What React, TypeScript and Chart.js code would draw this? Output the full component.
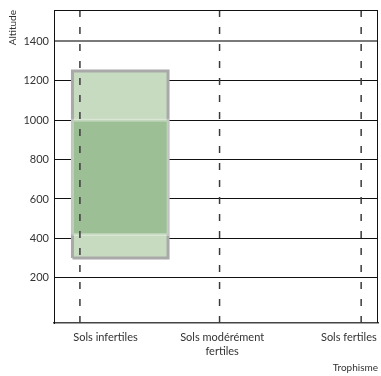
import React, { useEffect, useRef } from "react";
import { Chart, registerables } from "chart.js";

Chart.register(...registerables);

// Category labels along the "Trophisme" axis and where they sit on the x scale (0..10)
const categories: (string | string[])[] = ["Sols infertiles", ["Sols modérément", "fertiles"], "Sols fertiles"];
const categoryPositions = [1.59, 5.19, 9.1];
// Dashed reference lines (one per soil type)
const referenceLines = [0.8, 5.11, 9.48];
// Altitude ticks
const altitudeTicks = [200, 400, 600, 800, 1000, 1200, 1400];
const altitudeMin = -30;
const altitudeMax = 1560;
// Altitude range box (x extent on the trophism scale, y extent in metres)
const boxX = [0.57, 3.52];
const outerAltitude = [300, 1250];
const coreAltitude = [420, 1000];

const FONT = "Lato, 'Open Sans', sans-serif";

function rect(x: number[], y: number[]) {
  return [
    { x: x[0], y: y[0] },
    { x: x[0], y: y[1] },
    { x: x[1], y: y[1] },
    { x: x[1], y: y[0] },
    { x: x[0], y: y[0] },
  ];
}

const frame = {
  id: "frame",
  afterDraw(chart: any) {
    const { ctx, chartArea } = chart;
    ctx.save();
    ctx.strokeStyle = "#111";
    ctx.lineWidth = 1;
    ctx.beginPath();
    ctx.moveTo(chartArea.left, chartArea.top + 0.5);
    ctx.lineTo(chartArea.right, chartArea.top + 0.5);
    ctx.moveTo(chartArea.right - 0.5, chartArea.top);
    ctx.lineTo(chartArea.right - 0.5, chartArea.bottom);
    ctx.stroke();
    ctx.restore();
  },
};

export default function App() {
  const ref = useRef<HTMLCanvasElement | null>(null);
  useEffect(() => {
    if (!ref.current) return;
    const datasets: any[] = [
      {
        data: rect(boxX, outerAltitude),
        showLine: true,
        fill: "shape",
        backgroundColor: "#c7dbc1",
        borderColor: "#a9a9a9",
        borderWidth: 3,
        pointRadius: 0,
        tension: 0,
        borderJoinStyle: "miter",
        order: 3,
      },
      {
        data: rect(boxX, coreAltitude),
        showLine: true,
        fill: "shape",
        backgroundColor: "#9dbf95",
        borderColor: "rgba(255,255,255,0.3)",
        borderWidth: 3,
        pointRadius: 0,
        tension: 0,
        borderJoinStyle: "miter",
        order: 2,
      },
      ...referenceLines.map((x) => ({
        data: [
          { x, y: altitudeMax },
          { x, y: -55 },
        ],
        showLine: true,
        borderColor: "#3a3a3a",
        borderWidth: 1.5,
        borderDash: [7, 10],
        pointRadius: 0,
        clip: { left: 0, top: 0, right: 0, bottom: 6 },
        order: 1,
      })),
    ];
    const chart = new Chart(ref.current, {
      type: "scatter",
      data: { datasets },
      plugins: [frame],
      options: {
        animation: false,
        responsive: false,
        layout: { padding: { left: 0, top: 10, right: 3, bottom: 0 } },
        plugins: { legend: { display: false }, tooltip: { enabled: false } },
        scales: {
          x: {
            type: "linear",
            min: 0,
            max: 10,
            afterBuildTicks: (s: any) => {
              s.ticks = categoryPositions.map((v) => ({ value: v }));
            },
            afterFit: (s: any) => {
              s.height = 53;
              s.paddingLeft = 0;
              s.paddingRight = 0;
            },
            grid: { display: false, drawTicks: false },
            border: { color: "#444", width: 1.5 },
            ticks: {
              autoSkip: false,
              maxRotation: 0,
              padding: 8,
              color: "#333",
              font: { family: FONT, size: 11, lineHeight: 1.25 },
              callback: (_v: any, i: number) => categories[i],
            },
            title: {
              display: true,
              text: "Trophisme",
              align: "end",
              color: "#333",
              font: { family: FONT, size: 10 },
              padding: { top: 0, bottom: 2 },
            },
          },
          y: {
            type: "linear",
            min: altitudeMin,
            max: altitudeMax,
            z: 1,
            afterBuildTicks: (s: any) => {
              s.ticks = altitudeTicks.map((v) => ({ value: v }));
            },
            afterFit: (s: any) => {
              s.width = 54;
              s.paddingTop = 0;
              s.paddingBottom = 0;
            },
            grid: {
              drawTicks: false,
              color: (c: any) => (c.tick && c.tick.value === 1400 ? "#7a7a7a" : "#111"),
              lineWidth: (c: any) => (c.tick && c.tick.value === 1400 ? 2 : 1),
            },
            border: { color: "#111", width: 1 },
            ticks: {
              padding: 5,
              color: "#333",
              font: { family: FONT, size: 11 },
              callback: (v: any) => String(v),
            },
            title: {
              display: true,
              text: "Altitude",
              align: "end",
              color: "#333",
              font: { family: FONT, size: 10 },
              padding: { top: 7, bottom: 0 },
            },
          },
        },
      },
    } as any);
    return () => chart.destroy();
  }, []);
  return (
    <div style={{ position: "absolute", left: 0, top: 0, width: 381, height: 376, background: "#fff" }}>
      <canvas ref={ref} width={381} height={376} style={{ display: "block" }} />
    </div>
  );
}
